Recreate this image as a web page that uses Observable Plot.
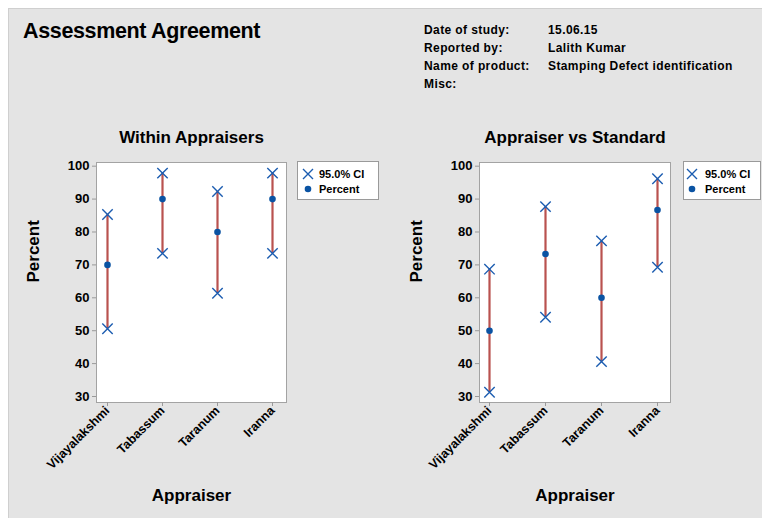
<!DOCTYPE html>
<html>
<head>
<meta charset="utf-8">
<script src="https://cdn.jsdelivr.net/npm/d3@7"></script>
<script src="https://cdn.jsdelivr.net/npm/@observablehq/plot@0.6"></script>
<style>
  html, body { margin: 0; padding: 0; background: #ffffff; }
  body { font-family: "Liberation Sans", Arial, sans-serif; }
  #wrap { position: relative; width: 762px; height: 518px; overflow: hidden; background: #ffffff; }
  #panel { position: absolute; left: 8px; top: 8px; width: 754px; height: 510px; background: #e4e4e4;
           border-left: 1px solid #cfcfcf; border-top: 1px solid #cfcfcf; box-sizing: border-box; }
  .abs { position: absolute; white-space: nowrap; color: #000; font-weight: bold; }
  #title { left: 23px; top: 19px; font-size: 21.5px; letter-spacing: -0.35px; }
  .meta { font-size: 12px; line-height: 18px; letter-spacing: 0.4px; }
  .legend { position: absolute; background: #fff; border: 1px solid #9a9a9a; box-sizing: border-box;
            font-size: 11px; font-weight: bold; }
  .legend .row { position: absolute; left: 0; height: 14px; display: flex; align-items: center; }
  .legend svg { display: block; }
  .plotbox { position: absolute; }
</style>
</head>
<body>
<div id="wrap">
  <div id="panel"></div>
  <div id="title" class="abs">Assessment Agreement</div>
  <div id="metaLabels" class="abs meta" style="left:424px; top:21px;"></div>
  <div id="metaValues" class="abs meta" style="left:548px; top:21px;"></div>
  <div id="plotLeft" class="plotbox" style="left:0px; top:110px;"></div>
  <div id="plotRight" class="plotbox" style="left:381px; top:110px;"></div>
  <div id="legendLeft" class="legend" style="left:297px; top:161px; width:82px; height:39px;"></div>
  <div id="legendRight" class="legend" style="left:683px; top:161px; width:78px; height:39px;"></div>
</div>
<script>
// ---------- data ----------
const appraisers = ["Vijayalakshmi", "Tabassum", "Taranum", "Iranna"];
const withinPercent = [70, 90, 80, 90];
const withinLower   = [50.6, 73.5, 61.4, 73.5];
const withinUpper   = [85.3, 97.9, 92.3, 97.9];
const vsPercent = [50, 73.3, 60, 86.7];
const vsLower   = [31.3, 54.1, 40.6, 69.3];
const vsUpper   = [68.7, 87.7, 77.3, 96.2];
const yTicks = [30, 40, 50, 60, 70, 80, 90, 100];
const legendLabels = ["95.0% CI", "Percent"];
const metaLabels = ["Date of study:", "Reported by:", "Name of product:", "Misc:"];
const metaValues = ["15.06.15", "Lalith Kumar", "Stamping Defect identification", ""];
const panelTitles = ["Within Appraisers", "Appraiser vs Standard"];
const yLabel = "Percent";
const xLabel = "Appraiser";

// ---------- styles ----------
const blue = "#1b5cb0";
const dotBlue = "#0a53a3";
const red = "#b9524f";
const font = `"Liberation Sans", Arial, sans-serif`;

document.getElementById("metaLabels").innerHTML = metaLabels.map(s => `<div>${s || "&nbsp;"}</div>`).join("");
document.getElementById("metaValues").innerHTML = metaValues.map(s => `<div>${s || "&nbsp;"}</div>`).join("");

function rows(p, lo, hi) {
  return appraisers.map((a, i) => ({appraiser: a, percent: p[i], lower: lo[i], upper: hi[i]}));
}

function makePlot(data, title, marginLeft, marginRight, insetRight) {
  return Plot.plot({
    width: 381,
    height: 408,
    marginLeft,
    marginRight,
    marginTop: 52,
    marginBottom: 116,
    style: {background: "transparent", fontFamily: font, fontWeight: "bold", color: "#000", overflow: "visible"},
    x: {type: "point", domain: appraisers, padding: 0.17, insetRight, label: null},
    y: {domain: [28.18, 101.12], label: null},
    marks: [
      Plot.frame({fill: "white", stroke: "#a3a3a3", strokeWidth: 1}),
      Plot.axisY({ticks: yTicks, tickSize: 4, tickPadding: 3, stroke: "#9a9a9a", fill: "#000",
                  fontSize: 13, fontWeight: "bold", label: null}),
      Plot.axisX({tickRotate: -45, tickSize: 4, tickPadding: 2, stroke: "#9a9a9a", fill: "#000",
                  fontSize: 12.5, fontWeight: "bold", label: null}),
      Plot.ruleX(data, {x: "appraiser", y1: "lower", y2: "upper", stroke: red, strokeWidth: 2.2}),
      Plot.dot(data, {x: "appraiser", y: "upper", symbol: "times", r: 4.8, stroke: blue, strokeWidth: 1.4}),
      Plot.dot(data, {x: "appraiser", y: "lower", symbol: "times", r: 4.8, stroke: blue, strokeWidth: 1.4}),
      Plot.dot(data, {x: "appraiser", y: "percent", r: 3.3, fill: dotBlue, stroke: null}),
      Plot.text([title], {text: d => d, frameAnchor: "top", lineAnchor: "middle", dy: -25, fontSize: 17, fontWeight: "bold", fill: "#000"}),
      Plot.text([yLabel], {text: d => d, frameAnchor: "left", lineAnchor: "middle", dx: -63, rotate: -90, fontSize: 17, fontWeight: "bold", fill: "#000"}),
      Plot.text([xLabel], {text: d => d, frameAnchor: "bottom", lineAnchor: "middle", dy: 93, fontSize: 17, fontWeight: "bold", fill: "#000"})
    ]
  });
}

document.getElementById("plotLeft").append(
  makePlot(rows(withinPercent, withinLower, withinUpper), panelTitles[0], 96, 95, 3));
document.getElementById("plotRight").append(
  makePlot(rows(vsPercent, vsLower, vsUpper), panelTitles[1], 98, 92, 2.5));

function legend(el, glyphX, textX) {
  const crossSvg = `<svg width="14" height="14"><path d="M2,2L12,12M12,2L2,12" stroke="${blue}" stroke-width="1.4" fill="none"/></svg>`;
  const dotSvg = `<svg width="14" height="14"><circle cx="7" cy="7" r="3.3" fill="${dotBlue}"/></svg>`;
  el.innerHTML =
    `<div class="row" style="top:5px; left:${glyphX}px;">${crossSvg}<span style="margin-left:${textX}px">${legendLabels[0]}</span></div>` +
    `<div class="row" style="top:20px; left:${glyphX}px;">${dotSvg}<span style="margin-left:${textX}px">${legendLabels[1]}</span></div>`;
}
legend(document.getElementById("legendLeft"), 3, 4);
legend(document.getElementById("legendRight"), 1, 6);
</script>
</body>
</html>
